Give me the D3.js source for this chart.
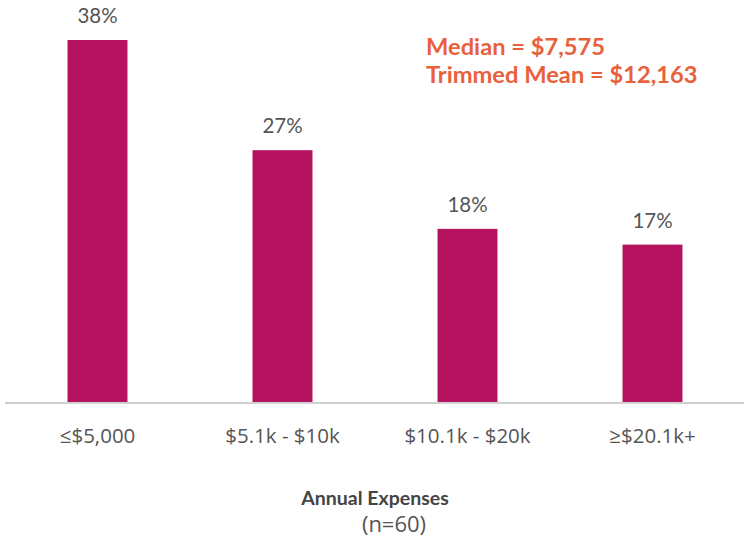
<!DOCTYPE html>
<html>
<head>
<meta charset="utf-8">
<script src="https://cdn.jsdelivr.net/npm/d3@7"></script>
<style>
  body { margin: 0; background: #fff; }
  svg { display: block; }
</style>
</head>
<body>
<svg width="744" height="544"></svg>
<script>
// data (n=60 respondents per bucket)
var categories = ["≤$5,000", "$5.1k - $10k", "$10.1k - $20k", "≥$20.1k+"];
var counts = [23, 16, 11, 10];
var total = 60;
var notes = ["Median = $7,575", "Trimmed Mean = $12,163"];
var axisTitle = "Annual Expenses";
var sampleNote = "(n=60)";

var shares = counts.map(function(c) { return c / total * 100; });

var svg = d3.select("svg"),
    width = +svg.attr("width"),
    height = +svg.attr("height");

var baseY = 402;

var x = d3.scaleBand()
    .domain(categories)
    .range([5, 745])
    .paddingInner(0.676)
    .paddingOuter(0.338);

var y = d3.scaleLinear()
    .domain([0, d3.max(shares)])
    .range([baseY, 40]);

var barColor = "#b5135f";

svg.append("g")
  .selectAll("rect")
  .data(shares)
  .enter().append("rect")
    .attr("x", function(d, i) { return x(categories[i]); })
    .attr("y", function(d) { return y(d); })
    .attr("width", x.bandwidth())
    .attr("height", function(d) { return baseY - y(d); })
    .attr("fill", barColor);

// value labels
svg.append("g")
  .selectAll("text")
  .data(shares)
  .enter().append("text")
    .attr("x", function(d, i) { return x(categories[i]) + x.bandwidth() / 2; })
    .attr("y", function(d) { return y(d) - 17; })
    .attr("text-anchor", "middle")
    .attr("font-family", "Lato, 'Open Sans', sans-serif")
    .attr("font-size", 20.5)
    .attr("fill", "#555")
    .text(function(d) { return Math.round(d) + "%"; });

// baseline axis
var axis = d3.axisBottom(x).tickSize(0).tickPadding(25);
var ax = svg.append("g")
    .attr("transform", "translate(0," + (baseY + 1) + ")")
    .call(axis);
ax.select(".domain").remove();
ax.insert("line", ":first-child")
    .attr("x1", 5).attr("x2", 744)
    .attr("stroke", "#d0d0d0")
    .attr("stroke-width", 2);
ax.selectAll("text")
    .attr("font-family", "'Open Sans', sans-serif")
    .attr("font-size", 20.5)
    .attr("fill", "#555");

// annotation
svg.append("g")
  .selectAll("text")
  .data(notes)
  .enter().append("text")
    .attr("x", 426)
    .attr("y", function(d, i) { return 55 + i * 28; })
    .attr("font-family", "Lato, sans-serif")
    .attr("font-weight", "bold")
    .attr("font-size", 23.7)
    .attr("fill", "#e8613c")
    .text(function(d) { return d; });

// axis title
svg.append("text")
    .attr("x", 375)
    .attr("y", 505)
    .attr("text-anchor", "middle")
    .attr("font-family", "Lato, sans-serif")
    .attr("font-weight", "bold")
    .attr("font-size", 19.5)
    .attr("fill", "#444")
    .text(axisTitle);

svg.append("text")
    .attr("x", 394)
    .attr("y", 532)
    .attr("text-anchor", "middle")
    .attr("font-family", "'Open Sans', sans-serif")
    .attr("font-size", 22)
    .attr("fill", "#555")
    .text(sampleNote);
</script>
</body>
</html>
